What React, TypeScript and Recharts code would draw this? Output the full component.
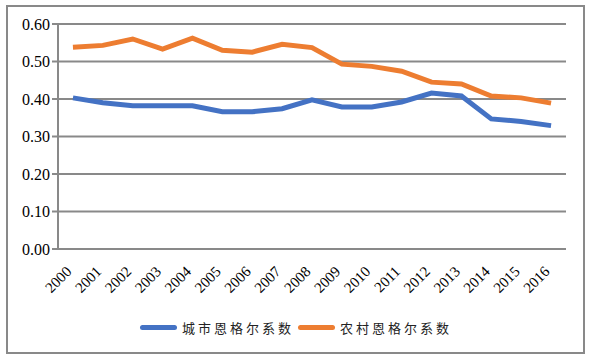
import { CartesianGrid, Legend, Line, LineChart, XAxis, YAxis } from "recharts"

const YEARS = ["2000", "2001", "2002", "2003", "2004", "2005", "2006", "2007", "2008", "2009", "2010", "2011", "2012", "2013", "2014", "2015", "2016"]
const URBAN = [0.403, 0.39, 0.382, 0.382, 0.382, 0.366, 0.366, 0.374, 0.398, 0.379, 0.379, 0.392, 0.416, 0.408, 0.347, 0.34, 0.329]
const RURAL = [0.538, 0.543, 0.56, 0.533, 0.562, 0.53, 0.525, 0.546, 0.537, 0.493, 0.487, 0.474, 0.445, 0.44, 0.408, 0.403, 0.389]
const Y_TICKS = [0, 0.1, 0.2, 0.3, 0.4, 0.5, 0.6]
const URBAN_NAME = "城市恩格尔系数"
const RURAL_NAME = "农村恩格尔系数"
const ORDER = [URBAN_NAME, RURAL_NAME]

const GRAY = "#898989"
const SERIF = "'Liberation Serif', 'Times New Roman', 'DejaVu Serif', serif"

const data = YEARS.map((year, i) => ({ idx: i, year, urban: URBAN[i], rural: RURAL[i] }))
const boundaryTicks = YEARS.map((_, i) => i).concat(YEARS.length)

function YearTick({ x, y, payload }: any) {
  return (
    <g transform={`translate(${x - 4},${y + 12})`}>
      <text transform="rotate(-45)" textAnchor="end" dominantBaseline="central" style={{ fontFamily: SERIF, fontSize: 15 }} fill="#000">
        {payload.value}
      </text>
    </g>
  )
}

function ValueTick({ x, y, payload }: any) {
  return (
    <text x={x} y={y} textAnchor="end" dominantBaseline="central" style={{ fontFamily: SERIF, fontSize: 16 }} fill="#000">
      {Number(payload.value).toFixed(2)}
    </text>
  )
}

function LegendContent({ payload }: any) {
  const items = [...(payload ?? [])].sort((a: any, b: any) => ORDER.indexOf(a.value) - ORDER.indexOf(b.value))
  return (
    <div style={{ display: "flex", alignItems: "center", fontFamily: "'Noto Sans CJK SC', sans-serif", fontSize: 13, letterSpacing: 3, color: "#222", whiteSpace: "nowrap" }}>
      {items.map((p: any) => (
        <div key={p.value} style={{ display: "flex", alignItems: "center", marginRight: 4 }}>
          <span style={{ display: "inline-block", width: 37, height: 5, borderRadius: 3, background: p.color, marginRight: 5 }} />
          <span>{p.value}</span>
        </div>
      ))}
    </div>
  )
}

export default function App() {
  return (
    <div style={{ position: "absolute", left: 0, top: 0, width: 603, height: 354, background: "#fff", fontFamily: SERIF }}>
      <div style={{ position: "absolute", left: 6, top: 5, width: 575, height: 345, border: `2px solid ${GRAY}` }} />
      <div style={{ position: "absolute", left: 0, top: 0 }}>
        <LineChart width={603} height={354} data={data} margin={{ top: 24, right: 37, bottom: 26, left: 0 }}>
          <CartesianGrid horizontal vertical={false} stroke={GRAY} strokeWidth={2} />
          <XAxis xAxisId="cat" dataKey="year" scale="band" interval={0} tickLine={false} axisLine={false} tick={<YearTick />} height={60} />
          <XAxis
            xAxisId="edge"
            type="number"
            domain={[0, YEARS.length]}
            ticks={boundaryTicks}
            tick={false}
            tickSize={6}
            tickLine={{ stroke: GRAY, strokeWidth: 2 }}
            axisLine={{ stroke: GRAY, strokeWidth: 2 }}
            allowDataOverflow
            height={0}
          />
          <YAxis
            domain={[0, 0.6]}
            ticks={Y_TICKS}
            width={58}
            tickSize={6}
            tick={<ValueTick />}
            tickLine={{ stroke: GRAY, strokeWidth: 2 }}
            axisLine={{ stroke: GRAY, strokeWidth: 2 }}
          />
          <Line xAxisId="cat" type="linear" dataKey="urban" name={URBAN_NAME} stroke="#4472C4" strokeWidth={5} dot={false} isAnimationActive={false} />
          <Line xAxisId="cat" type="linear" dataKey="rural" name={RURAL_NAME} stroke="#ED7D31" strokeWidth={5} dot={false} isAnimationActive={false} />
          <Legend content={<LegendContent />} wrapperStyle={{ position: "absolute", left: 140, top: 318, width: "auto" }} />
        </LineChart>
      </div>
    </div>
  )
}
